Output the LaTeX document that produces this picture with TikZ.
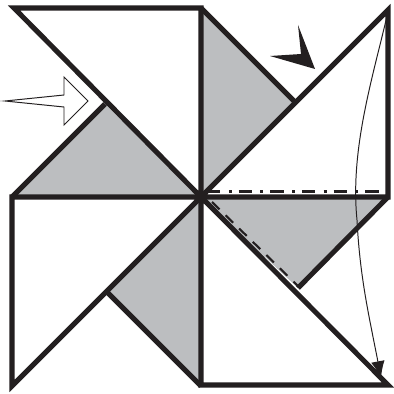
\documentclass[tikz,border=0pt]{standalone}
\usetikzlibrary{arrows.meta}
\definecolor{FoldGray}{HTML}{BCBEC0}
\definecolor{FoldInk}{HTML}{231F20}
\tikzset{
  edgeline/.style={draw=FoldInk, line width=3.6pt, line join=miter},
  foldline/.style={draw=FoldInk, line width=1.5pt}
}

\begin{document}
\begin{tikzpicture}[x=0.025cm, y=-0.025cm]
  \useasboundingbox (0,0) rectangle (394,394);

  % Abas cinza
  \fill[FoldGray] (12,197) -- (105,104) -- (200,197) -- cycle;
  \fill[FoldGray] (201,8) -- (296,103) -- (201,197) -- cycle;
  \fill[FoldGray] (201,197) -- (390,197) -- (298,288) -- cycle;
  \fill[FoldGray] (201,197) -- (201,386) -- (107,292) -- cycle;

  % Contorno
  \draw[edgeline] (201,197) -- (14,8) -- (201,8) -- (201,197);
  \draw[edgeline] (201,197) -- (388,10) -- (388,197) -- (201,197);
  \draw[edgeline] (201,197) -- (388,385) -- (201,385) -- (201,197);
  \draw[edgeline] (201,197) -- (12,197) -- (12,386) -- (201,197);

  % Abas
  \draw[edgeline] (12,197) -- (105,104);
  \draw[edgeline] (201,8) -- (296,103);
  \draw[edgeline] (388,197) -- (298,288);
  \draw[edgeline] (107,292) -- (201,386);

  % Dobras
  \draw[foldline, dash pattern=on 9.5pt off 6pt on 2pt off 5pt] (207,191.5) -- (382,191.5);
  \draw[foldline, dash pattern=on 7.5pt off 6pt] (212,202) -- (298,286);

  % Seta branca
  \draw[fill=white, draw=FoldInk, line width=0.7pt]
    (5,101) -- (64,95) -- (64,77) -- (88,101) -- (64,125) -- (64,107) -- cycle;

  % Seta preta
  \fill[FoldInk] (298,25) -- (315,69) -- (270,56) -- (301,54) -- cycle;

  % Seta curva
  \draw[draw=FoldInk, line width=0.7pt, -{Latex[length=4.2mm, width=3.4mm]}]
    (388,12) .. controls (372,80) and (350,150) .. (357,220) .. controls (360,280) and (370,320) .. (381,378);
\end{tikzpicture}
\end{document}
